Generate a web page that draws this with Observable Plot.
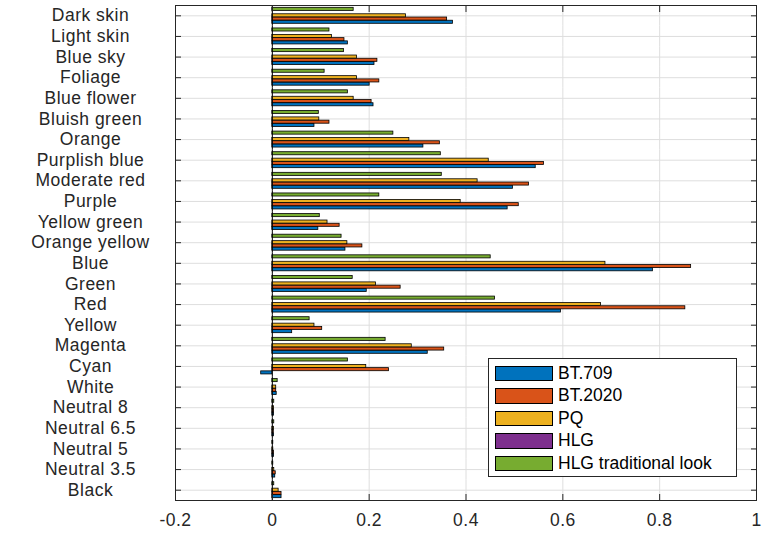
<!DOCTYPE html>
<html>
<head>
<meta charset="utf-8">
<script src="https://cdn.jsdelivr.net/npm/d3@7"></script>
<script src="https://cdn.jsdelivr.net/npm/@observablehq/plot@0.6"></script>
<style>
  body { margin: 0; background: #fff; }
  #chart { position: relative; width: 764px; height: 534px; font-family: "Liberation Sans", Arial, sans-serif; }
  #chart svg { position: absolute; left: 0; top: 0; }
  #legend { position: absolute; left: 488px; top: 358px; width: 249px; height: 119px; box-sizing: border-box;
            border: 1px solid #262626; background: #fff; padding: 3px 0 0 6px; }
  .row { display: flex; align-items: center; height: 22.5px; }
  .sw { width: 58px; height: 15.5px; border: 1px solid #000; box-sizing: border-box; margin-right: 5px; }
  .lbl { font-size: 17.5px; color: #000; white-space: nowrap; }
</style>
</head>
<body>
<div id="chart"></div>
<script>
// Colour-checker patches, top to bottom
const categories = [
  "Dark skin", "Light skin", "Blue sky", "Foliage", "Blue flower", "Bluish green",
  "Orange", "Purplish blue", "Moderate red", "Purple", "Yellow green", "Orange yellow",
  "Blue", "Green", "Red", "Yellow", "Magenta", "Cyan",
  "White", "Neutral 8", "Neutral 6.5", "Neutral 5", "Neutral 3.5", "Black"
];

const series = ["BT.709", "BT.2020", "PQ", "HLG", "HLG traditional look"];
const colors = ["#0072BD", "#D95319", "#EDB120", "#7E2F8E", "#77AC30"];

const bt709 = [0.373, 0.156, 0.211, 0.201, 0.209, 0.087, 0.312, 0.544, 0.497, 0.486, 0.095, 0.151,
               0.786, 0.195, 0.596, 0.041, 0.321, -0.023, 0.009, 0.0035, 0.0035, 0.0035, 0.006, 0.019];
const bt2020 = [0.361, 0.149, 0.217, 0.221, 0.205, 0.118, 0.346, 0.561, 0.530, 0.509, 0.139, 0.186,
                0.865, 0.265, 0.853, 0.103, 0.355, 0.241, 0.008, 0.0035, 0.003, 0.0035, 0.007, 0.019];
const pq = [0.276, 0.123, 0.175, 0.175, 0.168, 0.097, 0.283, 0.447, 0.424, 0.389, 0.114, 0.155,
            0.688, 0.214, 0.679, 0.087, 0.288, 0.194, 0.008, 0.0035, 0.0035, 0.002, 0.004, 0.013];
const hlg = [0, 0, 0, 0, 0, 0, 0, 0, 0, 0, 0, 0,
             0, 0, 0, 0, 0, 0, 0, 0, 0, 0, 0, 0];
const hlgTraditional = [0.168, 0.118, 0.148, 0.108, 0.156, 0.096, 0.250, 0.348, 0.350, 0.221, 0.098, 0.143,
                        0.451, 0.166, 0.460, 0.077, 0.234, 0.156, 0.011, 0.004, 0.004, 0.002, 0.002, 0.004];

const xTicks = [-0.2, 0, 0.2, 0.4, 0.6, 0.8, 1];

const seriesValues = [bt709, bt2020, pq, hlg, hlgTraditional];
const rows = categories.flatMap((category, i) =>
  series.map((s, j) => ({category, series: s, value: seriesValues[j][i]}))
);

const axisColor = "#262626";
const gridColor = "#dedede";
const tick = 6;

const chart = Plot.plot({
  width: 764,
  height: 534,
  marginLeft: 175,
  marginRight: 8,
  marginTop: 5,
  marginBottom: 34,
  style: {fontFamily: '"Liberation Sans", Arial, sans-serif', fontSize: "17px", color: axisColor, background: "#fff"},
  x: {domain: [-0.2, 1], axis: null, label: null},
  fy: {domain: categories, padding: 0, round: false, axis: null, label: null},
  y: {domain: series.slice().reverse(), paddingOuter: 0.72, paddingInner: 0.05, round: false, axis: null, label: null},
  color: {domain: series, range: colors},
  marks: [
    Plot.gridX(xTicks, {stroke: gridColor, strokeOpacity: 1}),
    Plot.gridFy({stroke: gridColor, strokeOpacity: 1}),
    Plot.barX(rows, {fy: "category", y: "series", x: "value", fill: "series", stroke: "#000", strokeWidth: 0.8}),
    Plot.ruleX([0], {stroke: "#000", strokeWidth: 1}),
    // box around the axes
    Plot.frame({anchor: "left", stroke: axisColor}),
    Plot.frame({anchor: "right", stroke: axisColor}),
    Plot.frame({anchor: "top", stroke: axisColor, facetAnchor: "top"}),
    Plot.frame({anchor: "bottom", stroke: axisColor, facetAnchor: "bottom"}),
    // ticks pointing into the axes on all four sides
    Plot.axisX(xTicks, {anchor: "bottom", tickSize: tick, dy: -tick, tickFormat: () => "", label: null, stroke: axisColor}),
    Plot.axisX(xTicks, {anchor: "top", tickSize: tick, dy: tick, tickFormat: () => "", label: null, stroke: axisColor}),
    Plot.axisX(xTicks, {anchor: "bottom", tickSize: 0, tickPadding: 13.5, tickFormat: d => String(d),
                        label: null, fontSize: 17.5, fill: axisColor}),
    Plot.axisFy({anchor: "left", tickSize: tick, dx: tick, tickFormat: () => "", label: null, stroke: axisColor}),
    Plot.axisFy({anchor: "right", tickSize: tick, dx: -tick, tickFormat: () => "", label: null, stroke: axisColor}),
    // category names, centred in the left margin
    Plot.text(categories, {fy: d => d, text: d => d, frameAnchor: "left", dx: -85, textAnchor: "middle",
                           fontSize: 17.5, fill: axisColor})
  ]
});

d3.select(chart).selectAll("text").style("letter-spacing", "0.5px");

const root = document.getElementById("chart");
root.appendChild(chart);

// legend inside the axes, lower right
const legend = document.createElement("div");
legend.id = "legend";
series.forEach((s, i) => {
  const row = document.createElement("div");
  row.className = "row";
  const sw = document.createElement("div");
  sw.className = "sw";
  sw.style.background = colors[i];
  const lbl = document.createElement("span");
  lbl.className = "lbl";
  lbl.textContent = s;
  row.appendChild(sw);
  row.appendChild(lbl);
  legend.appendChild(row);
});
root.appendChild(legend);
</script>
</body>
</html>
